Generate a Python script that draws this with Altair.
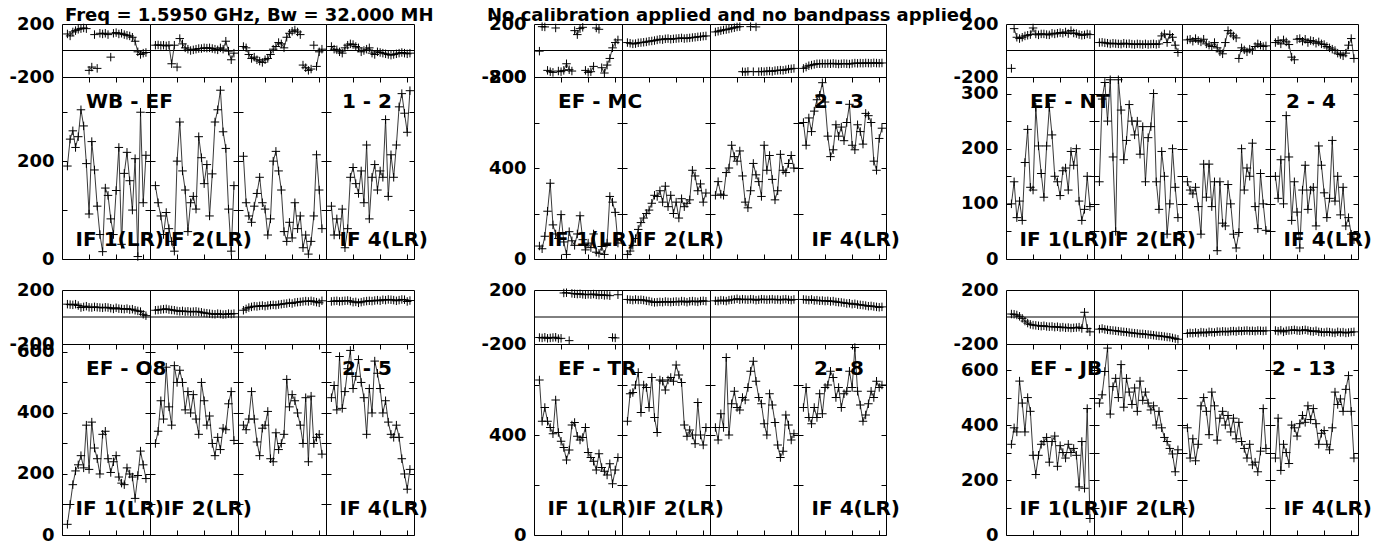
import altair as alt
import pandas as pd

# ---------------- data ----------------
CHANNELS = list(range(2, 32))  # 30 channels plotted per IF
IF_NAMES = ["IF 1(LR)", "IF 2(LR)", "", "IF 4(LR)"]
BASELINES = ["WB - EF", "EF - MC", "EF - NT", "EF - O8", "EF - TR", "EF - JB"]
PAIRS = ["1 - 2", "2 - 3", "2 - 4", "2 - 5", "2 - 8", "2 - 13"]
AMP_MAX = [372, 800, 330, 626, 764, 695]
AMP_TICK = [100, 200, 50, 100, 200, 100]
AMP_LABEL = [200, 400, 100, 200, 400, 200]
PHASE_LABELS = [-200, 200]
X_TICKS = [10, 20, 30]
TITLE_LEFT = "Freq = 1.5950 GHz, Bw = 32.000 MH"
TITLE_RIGHT = "No calibration applied and no bandpass applied"

amp_wb_ef = [
    [190, 245, 262, 228, 250, 305, 272, 195, 92, 240, 182, 108, 50, 15, 145, 130, 82, 50, 140, 228, 30, 175, 218, 160, 100, 205, 5, 300, 115, 212],
    [150, 115, 88, 50, 95, 62, 36, 16, 200, 280, 180, 141, 56, 115, 128, 102, 250, 207, 154, 193, 88, 174, 280, 305, 345, 260, 226, 102, 16, 150],
    [210, 115, 88, 75, 108, 134, 167, 115, 102, 49, 82, 200, 220, 180, 141, 56, 36, 75, 43, 115, 62, 88, 23, 49, 10, 36, 88, 213, 141, 62],
    [108, 49, 82, 49, 102, 23, 62, 167, 187, 154, 134, 180, 115, 233, 82, 167, 193, 141, 180, 167, 285, 128, 213, 167, 233, 311, 338, 298, 259, 344],
]
phase_wb_ef = [
    [125, 110, 140, 150, 160, 165, 170, 165, -150, -125, 120, -135, 130, 125, 130, 120, -50, 130, 135, 125, 130, 120, 115, 110, 100, 70, -10, -30, -20, -15],
    [40, 42, 38, 40, 35, 40, -100, 40, -125, 90, 50, 20, 10, 0, 5, 10, 15, 15, 20, 18, 20, 15, 10, 5, 20, 10, 70, -5, -70, -20],
    [30, 20, -30, -60, -50, -70, -80, -90, -70, -60, -30, 10, 30, 60, 50, 20, 100, 130, 145, 155, 140, 120, -110, -130, -150, -140, 40, -120, -10, 10],
    [30, 10, 5, -10, -20, 20, 40, 50, 45, 30, 20, -10, 0, 10, 20, -20, -30, -10, -15, -20, -25, -30, -35, -30, -25, -20, -15, -20, -25, -20],
]
amp_ef_mc = [
    [57, 45, 100, 210, 333, 150, 110, 90, 195, 75, 20, 120, 80, 60, 110, 190, 85, 40, 70, 50, 110, 30, 25, 55, 20, 70, 275, 250, 205, 70],
    [20, 35, 60, 90, 130, 160, 180, 200, 215, 245, 280, 275, 300, 250, 320, 230, 280, 200, 250, 180, 265, 230, 245, 260, 390, 365, 300, 330, 250, 290],
    [280, 340, 285, 280, 380, 400, 500, 450, 430, 475, 365, 250, 225, 300, 420, 370, 340, 275, 500, 390, 455, 350, 260, 300, 460, 390, 380, 420, 455, 400],
    [600, 500, 620, 560, 650, 700, 720, 775, 690, 540, 450, 480, 590, 540, 580, 520, 600, 680, 500, 480, 590, 560, 505, 640, 630, 600, 430, 390, 530, 575],
]
phase_ef_mc = [
    [-5, 180, 178, -150, -160, -165, 170, -155, -160, -150, -100, -145, -155, 150, 120, 165, 175, -150, -165, -160, -120, 170, 160, -130, -170, -110, -60, 20, 60, 80],
    [60, 55, 50, 52, 58, 60, 62, 65, 70, 72, 75, 80, 85, 82, 88, 90, 85, 88, 90, 92, 95, 90, 93, 95, 98, 100, 103, 105, 108, 110],
    [140, 145, 150, 155, 158, 162, 168, 172, 178, 180, -160, -162, -158, 180, -160, 178, -160, -158, -160, -156, -155, -158, -152, -150, -148, -150, -145, -140, -138, -135],
    [-135, -125, -115, -110, -105, -100, -100, -98, -100, -98, -100, -97, -100, -102, -100, -98, -100, -102, -98, -95, -97, -95, -96, -94, -95, -96, -93, -95, -96, -94],
]
amp_ef_nt = [
    [100, 140, 75, 105, 70, 175, 235, 130, 125, 275, 205, 155, 112, 205, 275, 225, 150, 140, 115, 160, 165, 125, 195, 170, 200, 105, 70, 90, 150, 95],
    [140, 290, 320, 250, 325, 185, 50, 325, 270, 180, 215, 280, 250, 225, 250, 190, 240, 140, 220, 240, 300, 140, 90, 195, 150, 45, 100, 200, 130, 75],
    [140, 125, 118, 130, 95, 45, 172, 112, 172, 95, 140, 15, 140, 65, 60, 135, 100, 45, 20, 48, 200, 125, 165, 150, 210, 95, 55, 155, 100, 52],
    [150, 110, 180, 100, 260, 185, 70, 140, 85, 20, 125, 170, 90, 125, 130, 60, 205, 170, 120, 75, 110, 215, 105, 150, 80, 130, 60, 75, 45, 35],
]
phase_ef_nt = [
    [-135, 165, 100, 90, 100, 110, 115, 120, 170, 125, 118, 125, 125, 120, 118, 130, 125, 130, 135, 130, 140, 128, 150, 132, 128, 120, 115, 118, 125, 120],
    [60, 62, 58, 55, 50, 55, 52, 50, 48, 55, 50, 52, 48, 45, 50, 48, 45, 50, 45, 48, 50, 46, 50, 110, 125, 60, 120, 100, 40, -15],
    [80, 85, 70, 90, 75, 65, 85, 50, 40, 30, 60, 20, -10, -25, 60, 150, 130, 110, 95, -60, 20, 5, -10, 10, 0, 30, 50, 40, 30, 35],
    [60, 75, 50, 80, 65, 45, -50, -70, 85, 90, 70, 85, 60, 75, 70, 55, 65, 50, 45, 30, 20, 10, 0, -20, -30, -40, -20, 40, 90, -60],
]
amp_ef_o8 = [
    [35, 100, 165, 210, 230, 260, 220, 360, 215, 370, 285, 250, 200, 330, 340, 250, 205, 240, 260, 190, 170, 165, 220, 200, 190, 120, 195, 275, 230, 185],
    [300, 340, 440, 380, 550, 420, 360, 555, 500, 540, 500, 410, 470, 400, 460, 380, 330, 500, 440, 360, 390, 300, 260, 320, 280, 350, 345, 430, 470, 310],
    [360, 345, 380, 470, 380, 305, 260, 350, 360, 405, 250, 240, 335, 280, 300, 330, 510, 420, 460, 440, 400, 360, 300, 450, 240, 455, 300, 320, 330, 265],
    [450, 490, 410, 585, 415, 470, 545, 605, 480, 520, 575, 500, 450, 330, 480, 400, 570, 530, 480, 400, 440, 370, 330, 320, 360, 320, 250, 200, 150, 215],
]
phase_ef_o8 = [
    [95, 92, 90, 95, 85, 70, 75, 80, 72, 70, 75, 72, 70, 68, 72, 70, 65, 60, 68, 62, 60, 58, 62, 55, 58, 50, 45, 40, 20, 10],
    [50, 52, 55, 58, 60, 55, 52, 50, 45, 42, 45, 40, 42, 38, 40, 42, 38, 35, 30, 28, 25, 22, 20, 25, 22, 18, 20, 25, 22, 25],
    [50, 60, 70, 75, 80, 78, 82, 85, 80, 85, 88, 90, 88, 92, 95, 98, 100, 105, 100, 108, 110, 112, 115, 118, 115, 120, 115, 110, 105, 120],
    [115, 118, 120, 115, 118, 120, 122, 118, 110, 112, 105, 110, 115, 118, 120, 118, 122, 125, 120, 128, 125, 130, 128, 125, 120, 125, 130, 128, 115, 122],
]
amp_ef_tr = [
    [620, 455, 510, 455, 430, 405, 540, 410, 375, 350, 300, 340, 440, 450, 395, 380, 390, 430, 330, 310, 295, 260, 325, 270, 255, 240, 285, 205, 260, 310],
    [455, 565, 570, 600, 650, 490, 600, 590, 510, 630, 470, 410, 620, 615, 580, 620, 630, 615, 680, 640, 610, 440, 395, 420, 400, 365, 530, 400, 360, 430],
    [430, 380, 485, 430, 710, 400, 525, 575, 510, 500, 550, 540, 590, 655, 695, 615, 550, 525, 445, 400, 565, 520, 450, 360, 310, 335, 480, 440, 380, 405],
    [510, 590, 470, 445, 510, 470, 565, 485, 590, 600, 655, 630, 550, 590, 510, 565, 575, 655, 590, 750, 575, 520, 455, 480, 525, 575, 550, 615, 590, 600],
]
phase_ef_tr = [
    [-152, -155, -150, -158, -155, -152, -150, -160, -158, 178, 180, -175, 175, 172, 170, 172, 168, 165, 168, 166, 170, 164, 162, 165, 160, 162, 158, -152, -155, 165],
    [130, 128, 125, 130, 126, 128, 125, 120, 118, 112, 108, 110, 112, 110, 115, 112, 110, 113, 115, 112, 118, 115, 110, 116, 118, 115, 112, 118, 120, 117],
    [120, 118, 125, 122, 118, 125, 128, 130, 135, 128, 132, 130, 128, 132, 130, 125, 128, 132, 130, 128, 130, 132, 128, 130, 126, 130, 132, 128, 125, 130],
    [130, 128, 125, 130, 122, 125, 120, 122, 118, 120, 115, 118, 112, 110, 108, 105, 100, 102, 95, 98, 92, 90, 88, 85, 80, 82, 78, 75, 72, 75],
]
amp_ef_jb = [
    [330, 390, 375, 560, 480, 375, 500, 450, 290, 220, 290, 330, 340, 355, 265, 340, 360, 250, 325, 300, 280, 330, 300, 315, 290, 175, 340, 170, 460, 60],
    [480, 510, 595, 680, 440, 540, 570, 500, 620, 465, 570, 520, 475, 535, 450, 560, 490, 520, 480, 455, 470, 400, 450, 390, 355, 340, 315, 295, 230, 310],
    [390, 280, 350, 270, 330, 470, 500, 450, 365, 520, 470, 345, 425, 450, 400, 435, 375, 425, 350, 410, 340, 315, 280, 330, 255, 265, 230, 305, 460, 315],
    [280, 425, 235, 330, 300, 260, 400, 390, 360, 405, 435, 410, 470, 420, 460, 405, 330, 370, 380, 330, 310, 390, 520, 475, 495, 450, 530, 580, 450, 280],
]
phase_ef_jb = [
    [22, 20, 15, 5, -10, -30, -45, -55, -60, -62, -65, -68, -65, -70, -72, -70, -75, -72, -78, -75, -80, -78, -82, -80, -78, -75, -85, 35, -85, -110],
    [-90, -85, -92, -95, -98, -100, -102, -105, -108, -110, -112, -115, -118, -120, -122, -125, -125, -128, -130, -132, -135, -138, -140, -142, -145, -148, -150, -155, -160, -165],
    [-122, -118, -120, -115, -120, -112, -115, -118, -110, -112, -115, -108, -110, -106, -108, -110, -105, -104, -108, -102, -105, -102, -100, -104, -102, -105, -100, -102, -104, -102],
    [-100, -105, -98, -110, -102, -100, -98, -95, -100, -102, -98, -95, -100, -105, -108, -102, -110, -112, -115, -110, -112, -115, -118, -110, -115, -112, -118, -115, -112, -110],
]

AMPS = [amp_wb_ef, amp_ef_mc, amp_ef_nt, amp_ef_o8, amp_ef_tr, amp_ef_jb]
PHASES = [phase_wb_ef, phase_ef_mc, phase_ef_nt, phase_ef_o8, phase_ef_tr, phase_ef_jb]

# ---------------- layout / style ----------------
W = 88
GAP_W = 120
PH_H = [53, 54]
AMP_H = [182, 191]
ROW_GAP = 31
PLUS = "M-1,0H1M0,-1V1"
FONT = "DejaVu Sans"
XS = alt.Scale(domain=[0, 32.5], nice=False)
PS = alt.Scale(domain=[-200, 200], nice=False)


def frame(g, i):
    ph = PHASES[g][i]
    seg, s = [], 0
    for k, v in enumerate(ph):
        if k and abs(v - ph[k - 1]) > 150:
            s += 1
        seg.append(s)
    return pd.DataFrame({"ch": CHANNELS, "amp": AMPS[g][i], "ph": ph, "seg": seg})


def label(txt, x, y, size, align):
    return alt.Chart(pd.DataFrame({"t": [txt]})).mark_text(
        font=FONT, fontWeight="bold", fontSize=size, color="black",
        align=align, baseline="alphabetic"
    ).encode(text="t:N", x=alt.value(x), y=alt.value(y))


def points(base, xenc, yenc):
    return base.mark_point(shape=PLUS, size=72, filled=False, color="black",
                           strokeWidth=1, opacity=1).encode(x=xenc, y=yenc)


def phase_axis(i):
    if i == 0:
        return alt.Axis(values=PHASE_LABELS, ticks=False, tickSize=0, domain=False, grid=False,
                        labelPadding=8, title=None, labelFlush=False, labelOverlap=False,
                        labelExpr="'' + datum.value")
    return None


def phase_panel(g, i, row):
    base = alt.Chart(frame(g, i))
    zero = alt.Chart(pd.DataFrame({"z": [0]})).mark_rule(color="black", strokeWidth=1).encode(
        y=alt.Y("z:Q", scale=PS, axis=phase_axis(i)))
    line = base.mark_line(color="#222", strokeWidth=0.9).encode(
        x=alt.X("ch:Q", scale=XS, axis=None),
        y=alt.Y("ph:Q", scale=PS, axis=phase_axis(i)),
        detail="seg:N")
    pts = points(base, alt.X("ch:Q", scale=XS, axis=None),
                 alt.Y("ph:Q", scale=PS, axis=phase_axis(i)))
    layers = [zero, line, pts]
    if g == 0 and i == 0:
        layers.append(label(TITLE_LEFT, 3, -3, 18, "left"))
        layers.append(label(TITLE_RIGHT, 425, -3, 18, "left"))
    return alt.layer(*layers).properties(width=W, height=PH_H[row])


def amp_panel(g, i, row):
    base = alt.Chart(frame(g, i))
    amax = AMP_MAX[g]
    ys = alt.Scale(domain=[0, amax], nice=False)
    tvals = list(range(0, amax + 1, AMP_TICK[g]))
    common = dict(domain=False, grid=False, title=None, ticks=True, tickSize=5, offset=-5,
                  tickColor="black", tickWidth=1, labelFlush=False, labelOverlap=False)
    left = alt.Axis(orient="left", values=tvals, labels=(i == 0), labelPadding=8,
                    labelExpr=f"datum.value % {AMP_LABEL[g]} == 0 ? '' + datum.value : ''", **common)
    right = alt.Axis(orient="right", values=tvals, labels=False, **common)
    bottom = alt.Axis(orient="bottom", values=X_TICKS, labels=False, **common)
    top = alt.Axis(orient="top", values=X_TICKS, labels=False, **common)
    line = base.mark_line(color="#222", strokeWidth=0.9).encode(
        x=alt.X("ch:Q", scale=XS, axis=bottom),
        y=alt.Y("amp:Q", scale=ys, axis=left))
    pts = points(base, alt.X("ch:Q", scale=XS, axis=top), alt.Y("amp:Q", scale=ys, axis=right))
    h = AMP_H[row]
    layers = [line, pts]
    if i == 0:
        layers.append(label(BASELINES[g], 24, 31, 20, "left"))
    if i == 3:
        layers.append(label(PAIRS[g], W - 22, 31, 20, "right"))
    if IF_NAMES[i]:
        layers.append(label(IF_NAMES[i], W + 14, h - (13 if row == 0 else 20), 20, "right"))
    return alt.layer(*layers).resolve_axis(x="independent", y="independent").properties(width=W, height=h)


def spacer(w, h):
    return alt.Chart(pd.DataFrame({"a": [0]})).mark_point(opacity=0).properties(
        width=w, height=h, view=alt.ViewBackground(strokeOpacity=0))


cells = []
for row in range(2):
    groups = [row * 3 + c for c in range(3)]
    # phase row
    for c, g in enumerate(groups):
        for i in range(4):
            cells.append(phase_panel(g, i, row))
        if c < 2:
            cells.append(spacer(GAP_W, PH_H[row]))
    # amplitude row
    for c, g in enumerate(groups):
        for i in range(4):
            cells.append(amp_panel(g, i, row))
        if c < 2:
            cells.append(spacer(GAP_W, AMP_H[row]))
    if row == 0:
        for c in range(3):
            for i in range(4):
                cells.append(spacer(W, ROW_GAP))
            if c < 2:
                cells.append(spacer(GAP_W, ROW_GAP))

chart = alt.concat(*cells, columns=14, spacing=0, bounds="flush").properties(
    padding={"left": 0, "top": -2, "right": 0, "bottom": 0}
).configure_view(
    stroke="black", strokeWidth=1
).configure_axis(
    labelFont=FONT, labelFontWeight="bold", labelFontSize=18, labelColor="black"
)

chart.save("out.html", embed_options={"renderer": "svg", "actions": False})
